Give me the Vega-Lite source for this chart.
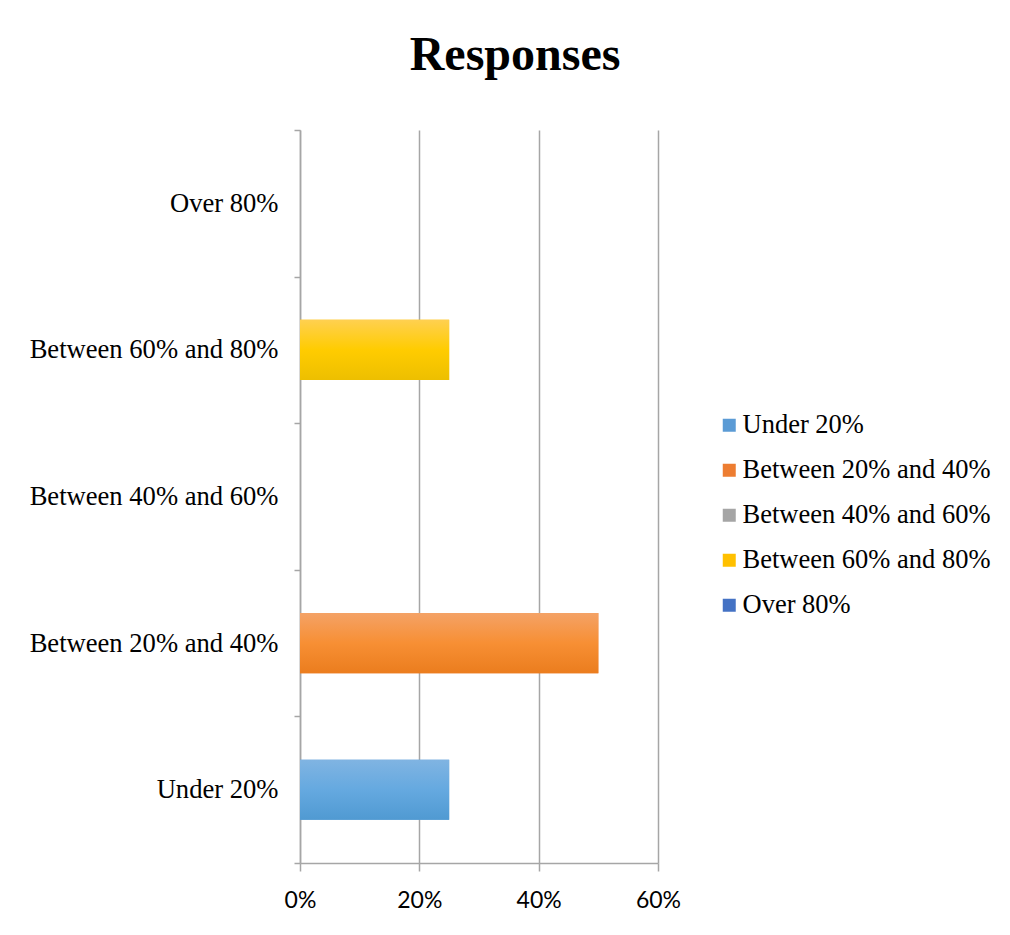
{
  "$schema": "https://vega.github.io/schema/vega-lite/v6.json",
  "autosize": "none",
  "width": 358,
  "height": 733,
  "padding": {"left": 300, "top": 130, "right": 352, "bottom": 72},
  "background": "white",
  "title": {
    "text": "Responses",
    "font": "Liberation Serif",
    "fontSize": 48,
    "fontWeight": "bold",
    "color": "black",
    "anchor": "middle",
    "dx": 36,
    "offset": 37
  },
  "data": {
    "values": [
      {"range": "Under 20%", "share": 0.25},
      {"range": "Between 20% and 40%", "share": 0.5},
      {"range": "Between 40% and 60%", "share": 0},
      {"range": "Between 60% and 80%", "share": 0.25},
      {"range": "Over 80%", "share": 0}
    ]
  },
  "encoding": {
    "y": {
      "field": "range",
      "type": "nominal",
      "sort": ["Over 80%", "Between 60% and 80%", "Between 40% and 60%", "Between 20% and 40%", "Under 20%"],
      "title": null,
      "scale": {"paddingInner": 0, "paddingOuter": 0},
      "axis": {
        "labelFont": "Liberation Serif",
        "labelFontSize": 26.6,
        "labelColor": "black",
        "labelPadding": 16,
        "labelLimit": 400,
        "tickBand": "extent",
        "tickSize": 6,
        "tickColor": "#A6A6A6",
        "tickWidth": 1.5,
        "domainColor": "#A6A6A6",
        "domainWidth": 1.5,
        "grid": false
      }
    },
    "x": {
      "field": "share",
      "type": "quantitative",
      "title": null,
      "scale": {"domain": [0, 0.6], "nice": false},
      "axis": {
        "values": [0, 0.2, 0.4, 0.6],
        "format": ".0%",
        "labelFont": "Lato",
        "labelFontSize": 23,
        "labelColor": "black",
        "labelPadding": 18,
        "labelFlush": false,
        "labelOverlap": false,
        "tickSize": 8,
        "tickColor": "#A6A6A6",
        "tickWidth": 1.5,
        "domainColor": "#A6A6A6",
        "domainWidth": 1.5,
        "grid": true,
        "gridColor": "#A6A6A6",
        "gridWidth": 1.5
      }
    }
  },
  "layer": [
    {
      "mark": {"type": "bar", "height": {"band": 0.41}},
      "encoding": {
        "fill": {
          "field": "range",
          "type": "nominal",
          "sort": ["Under 20%", "Between 20% and 40%", "Between 40% and 60%", "Between 60% and 80%", "Over 80%"],
          "scale": {
            "domain": ["Under 20%", "Between 20% and 40%", "Between 40% and 60%", "Between 60% and 80%", "Over 80%"],
            "range": ["#5B9BD5", "#ED7D31", "#A5A5A5", "#FFC000", "#4472C4"]
          },
          "legend": {
            "title": null,
            "orient": "none",
            "legendX": 416,
            "legendY": 282,
            "symbolType": "square",
            "symbolSize": 169,
            "symbolStrokeWidth": 0,
            "labelFont": "Liberation Serif",
            "labelFontSize": 26.5,
            "labelColor": "black",
            "labelOffset": 0,
            "rowPadding": 18,
            "labelLimit": 400
          }
        }
      }
    },
    {
      "mark": {"type": "bar", "height": {"band": 0.41}},
      "encoding": {
        "fill": {
          "condition": [
            {
              "test": "datum.range === 'Under 20%'",
              "value": {
                "gradient": "linear", "x1": 0, "y1": 0, "x2": 0, "y2": 1,
                "stops": [
                  {"offset": 0, "color": "#80B4E2"},
                  {"offset": 0.5, "color": "#65A9E0"},
                  {"offset": 1, "color": "#509AD2"}
                ]
              }
            },
            {
              "test": "datum.range === 'Between 20% and 40%'",
              "value": {
                "gradient": "linear", "x1": 0, "y1": 0, "x2": 0, "y2": 1,
                "stops": [
                  {"offset": 0, "color": "#F4A266"},
                  {"offset": 0.5, "color": "#F78F34"},
                  {"offset": 1, "color": "#EB7D1E"}
                ]
              }
            },
            {
              "test": "datum.range === 'Between 60% and 80%'",
              "value": {
                "gradient": "linear", "x1": 0, "y1": 0, "x2": 0, "y2": 1,
                "stops": [
                  {"offset": 0, "color": "#FFD050"},
                  {"offset": 0.5, "color": "#FFCC00"},
                  {"offset": 1, "color": "#EDBF00"}
                ]
              }
            }
          ],
          "value": "transparent"
        }
      }
    }
  ],
  "config": {
    "view": {"stroke": null}
  }
}
